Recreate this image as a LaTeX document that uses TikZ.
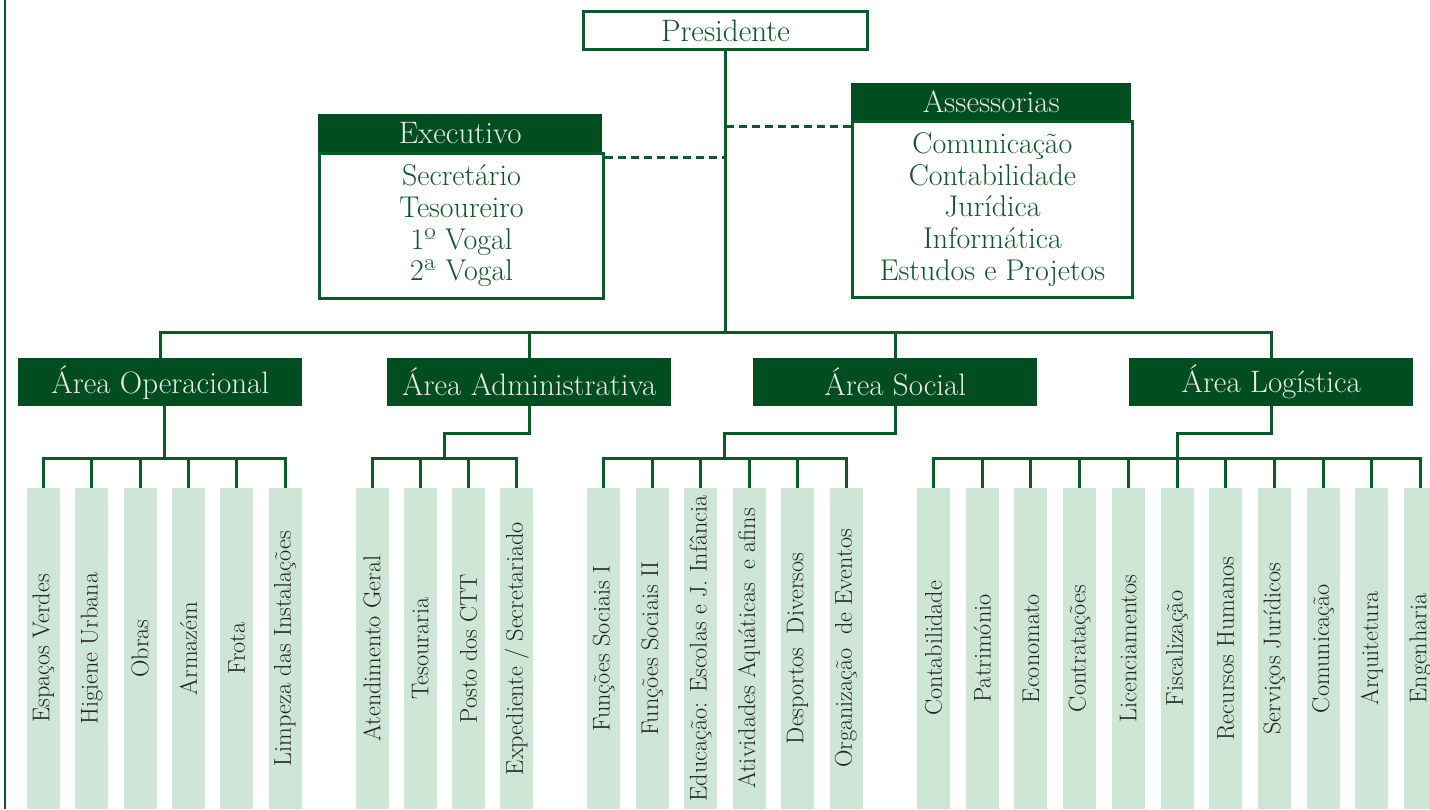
\documentclass[tikz,border=0pt]{standalone}
\usepackage{fontspec}
\usetikzlibrary{calc}
\definecolor{dkgreen}{HTML}{004D1F}
\definecolor{lngreen}{HTML}{0B5A2A}
\definecolor{txtgreen}{HTML}{0F5528}
\definecolor{barfill}{HTML}{CDE6D6}
\definecolor{bartext}{HTML}{222222}
\definecolor{hdtext}{HTML}{EAEAEA}
\tikzset{
  conn/.style={draw=lngreen, line width=3pt},
  dashconn/.style={draw=lngreen, line width=3pt, dash pattern=on 8pt off 5pt},
  hdr/.style={fill=dkgreen, text=hdtext, inner sep=0pt, font=\fontsize{31}{32}\selectfont, anchor=north west},
  bodybox/.style={draw=lngreen, line width=3pt, fill=white, text=txtgreen, align=center, inner sep=0pt, font=\fontsize{30}{31.7}\selectfont, anchor=north west},
  presbox/.style={draw=lngreen, line width=3pt, fill=white, text=txtgreen, inner sep=0pt, font=\fontsize{31}{32}\selectfont, anchor=north west, minimum width=284pt, minimum height=38pt},
  areabox/.style={fill=dkgreen, text=hdtext, minimum width=284pt, minimum height=48pt, inner sep=0pt, font=\fontsize{31}{32}\selectfont, anchor=north west},
  bar/.style={fill=barfill, text=bartext, minimum width=33pt, minimum height=321pt, inner sep=0pt, font=\fontsize{24.2}{27}\selectfont},
}
\newcommand{\vt}[1]{\rotatebox{90}{#1}}
\begin{document}
\begin{tikzpicture}[x=1pt,y=-1pt]
\clip (0,0) rectangle (1430,809);
\fill[white] (0,0) rectangle (1430,809);
\draw[draw=lngreen, line width=1.5pt] (5,0) -- (5,809);

% bus levels
\coordinate (bus) at (0,332);
\coordinate (yb1) at (0,433);
\coordinate (yb2) at (0,458);

% top boxes
\node[presbox] (pres) at (582,10) {Presidente};
\node[bodybox, minimum width=284pt, minimum height=145pt] (exB) at (318,152) {Secretário\\Tesoureiro\\1º Vogal\\2ª Vogal};
\node[hdr, minimum width=284pt, minimum height=38pt] (exH) at (318,114) {Executivo};
\node[bodybox, minimum width=280pt, minimum height=176pt] (asB) at (851,120) {Comunicação\\Contabilidade\\Jurídica\\Informática\\Estudos e Projetos};
\node[hdr, minimum width=280pt, minimum height=37pt] (asH) at (851,83) {Assessorias};

% areas
\node[areabox] (opA) at (18,358) {Área Operacional};
\node[areabox] (adA) at (387,358) {Área Administrativa};
\node[areabox] (soA) at (753,358) {Área Social};
\node[areabox] (loA) at (1129,358) {Área Logística};

% bars: operacional
\node[bar] (op1) at (43.5,648.5) {\vt{Espaços Verdes}};
\node[bar] (op2) at (91.8,648.5) {\vt{Higiene Urbana}};
\node[bar] (op3) at (140.1,648.5) {\vt{Obras}};
\node[bar] (op4) at (188.4,648.5) {\vt{Armazém}};
\node[bar] (op5) at (236.7,648.5) {\vt{Frota}};
\node[bar] (op6) at (285,648.5) {\vt{Limpeza das Instalações}};
% administrativa
\node[bar] (ad1) at (372,648.5) {\vt{Atendimento Geral}};
\node[bar] (ad2) at (420.3,648.5) {\vt{Tesouraria}};
\node[bar] (ad3) at (468.6,648.5) {\vt{Posto dos CTT}};
\node[bar] (ad4) at (516.9,648.5) {\vt{Expediente / Secretariado}};
% social
\node[bar] (so1) at (603.5,648.5) {\vt{Funções Sociais I}};
\node[bar] (so2) at (652,648.5) {\vt{Funções Sociais II}};
\node[bar] (so3) at (700.5,648.5) {\vt{Educação: Escolas e J. Infância}};
\node[bar] (so4) at (749,648.5) {\vt{Atividades Aquáticas\hspace{0.25em} e afins}};
\node[bar] (so5) at (797.5,648.5) {\vt{Desportos\hspace{0.25em} Diversos}};
\node[bar] (so6) at (846,648.5) {\vt{Organização\hspace{0.25em} de Eventos}};
% logistica
\node[bar] (lo1) at (933.5,648.5) {\vt{Contabilidade}};
\node[bar] (lo2) at (982.2,648.5) {\vt{Património}};
\node[bar] (lo3) at (1030.9,648.5) {\vt{Economato}};
\node[bar] (lo4) at (1079.6,648.5) {\vt{Contratações}};
\node[bar] (lo5) at (1128.3,648.5) {\vt{Licenciamentos}};
\node[bar] (lo6) at (1177,648.5) {\vt{Fiscalização}};
\node[bar] (lo7) at (1225.7,648.5) {\vt{Recursos Humanos}};
\node[bar] (lo8) at (1274.4,648.5) {\vt{Serviços Jurídicos}};
\node[bar] (lo9) at (1323.1,648.5) {\vt{Comunicação}};
\node[bar] (lo10) at (1371.8,648.5) {\vt{Arquitetura}};
\node[bar] (lo11) at (1420.5,648.5) {\vt{Engenharia}};

% trunk and top bus
\draw[conn] (pres.south) -- (pres.south |- bus);
\draw[conn] (opA.north) -- (opA.north |- bus) -- (loA.north |- bus) -- (loA.north);
\draw[conn] (adA.north) -- (adA.north |- bus);
\draw[conn] (soA.north) -- (soA.north |- bus);

% dashed links
\coordinate (exd) at ([yshift=-5pt]exB.north east);
\draw[dashconn] (exd) -- (exd -| pres.south);
\coordinate (asd) at ([yshift=-6pt]asB.north west);
\draw[dashconn] (pres.south |- asd) -- (asd);

% junctions
\coordinate (opJ) at ($(op1.north)!0.5!(op6.north)$);
\coordinate (adJ) at ($(ad1.north)!0.5!(ad4.north)$);
\coordinate (soJ) at ($(so1.north)!0.5!(so6.north)$);
\coordinate (loJ) at ($(lo1.north)!0.5!(lo11.north)$);

\draw[conn] (opA.south -| opJ) -- (opJ |- yb2);
\draw[conn] (adA.south) -- (adA.south |- yb1) -| (adJ |- yb2);
\draw[conn] (soA.south) -- (soA.south |- yb1) -| (soJ |- yb2);
\draw[conn] (loA.south) -- (loA.south |- yb1) -| (loJ |- yb2);

% group buses
\draw[conn] (op1.north) |- (op6.north |- yb2) -- (op6.north);
\foreach \i in {2,...,5} \draw[conn] (op\i.north) -- (op\i.north |- yb2);
\draw[conn] (ad1.north) |- (ad4.north |- yb2) -- (ad4.north);
\foreach \i in {2,3} \draw[conn] (ad\i.north) -- (ad\i.north |- yb2);
\draw[conn] (so1.north) |- (so6.north |- yb2) -- (so6.north);
\foreach \i in {2,...,5} \draw[conn] (so\i.north) -- (so\i.north |- yb2);
\draw[conn] (lo1.north) |- (lo11.north |- yb2) -- (lo11.north);
\foreach \i in {2,...,10} \draw[conn] (lo\i.north) -- (lo\i.north |- yb2);
\end{tikzpicture}
\end{document}
